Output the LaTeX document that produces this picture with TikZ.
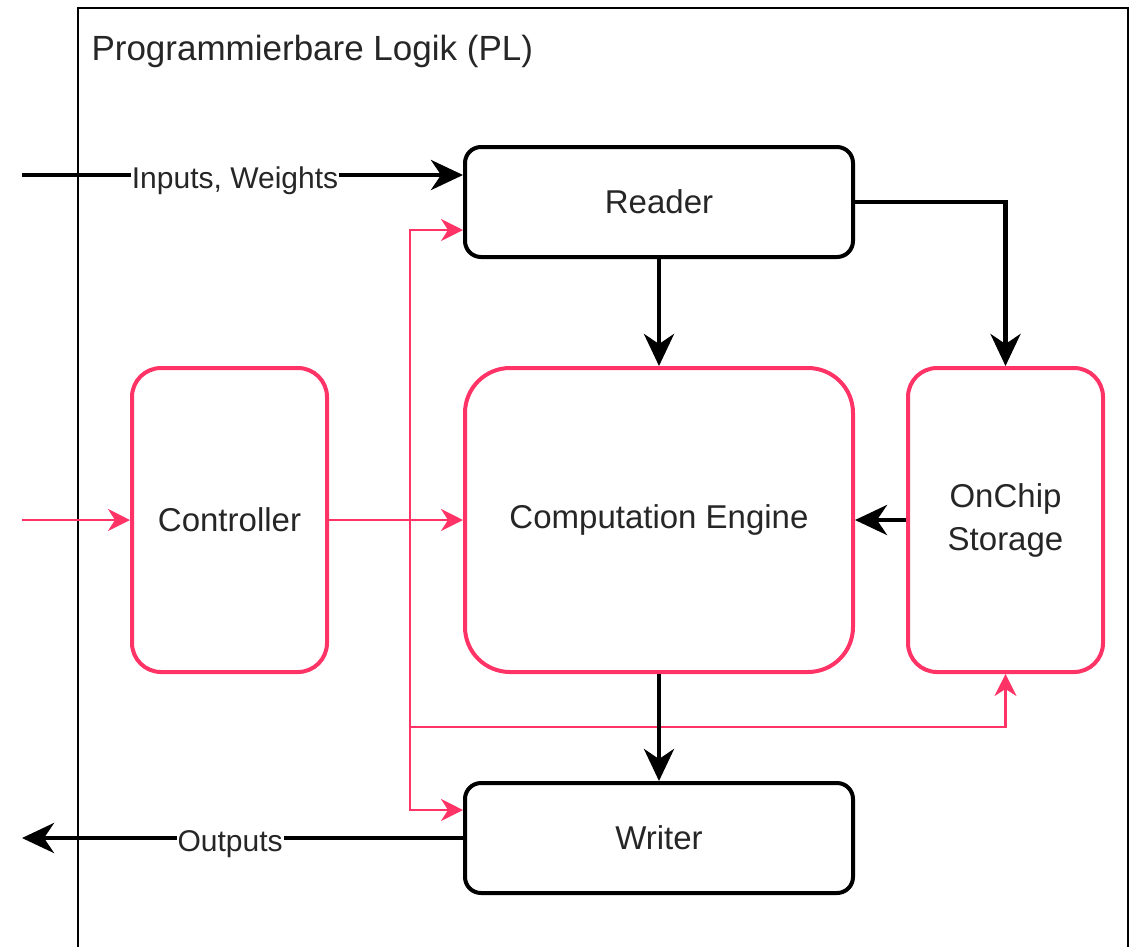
\documentclass[tikz,border=0pt]{standalone}
\usepackage{fontspec}
\setmainfont{Liberation Sans}
\usetikzlibrary{arrows.meta,calc}
\definecolor{ctrlpink}{HTML}{FF3366}
\definecolor{txt}{HTML}{262626}

\begin{document}
\begin{tikzpicture}[x=1pt,y=-1pt,
  boxtext/.style={text=txt,font=\fontsize{33}{43}\selectfont,align=center,inner sep=0pt},
  datablock/.style={boxtext,draw=black,line width=4pt,rounded corners=16pt,
    minimum width=388pt,minimum height=110pt},
  ctrlblock/.style={boxtext,draw=ctrlpink,line width=4pt,minimum height=304pt},
  dataflow/.style={draw=black,line width=4.5pt,
    -{Stealth[length=32pt,width=30pt,inset=10pt]}},
  ctrlflow/.style={draw=ctrlpink,line width=2.5pt,
    -{Stealth[length=22pt,width=22pt,inset=7pt]}},
  edgelabel/.style={fill=white,inner sep=1pt,text=txt,yshift=-6pt,
    font=\fontsize{30}{36}\selectfont}
]
\useasboundingbox (0,0) rectangle (1140,946);

% frame of the programmable logic region (continues below the page)
\begin{scope}
  \clip (0,0) rectangle (1140,946);
  \draw[line width=2.5pt] (78,980) -- (78,8) -- (1128,8) -- (1128,980);
\end{scope}
\node[anchor=base west,text=txt,font=\fontsize{35}{42}\selectfont] (title) at (88,60)
  {Programmierbare Logik (PL)};

% blocks
\node[datablock] (reader) at (659,202) {Reader};
\node[datablock] (writer) at (659,838) {Writer};
\node[ctrlblock,rounded corners=45pt,minimum width=388pt] (engine) at (659,520) {Computation Engine};
\node[ctrlblock,rounded corners=29pt,minimum width=195pt] (ctrl) at (229.5,520) {Controller};
\node[ctrlblock,rounded corners=29pt,minimum width=195pt] (store) at (1005.5,520) {OnChip\\Storage};

% free ends and the control bus
\coordinate (datain) at (22,175);
\coordinate (dataout) at (22,838);
\coordinate (ctrlin) at (22,520);
\coordinate (bus) at (410,520);
\coordinate (busS) at (410,727);

% control signals
\draw[ctrlflow] (ctrlin) -- (ctrl.west);
\draw[ctrlflow] (ctrl.east) -- (engine.west);
\draw[ctrlflow] (bus) |- ([yshift=-28pt]reader.west);
\draw[ctrlflow] (bus) |- ([yshift=28pt]writer.west);
\draw[ctrlflow] (bus) -- (busS) -| (store.south);

% data path
\draw[dataflow] (datain) -- (datain -| reader.west)
  node[edgelabel,pos=0.483] {Inputs, Weights};
\draw[dataflow] (reader.south) -- (engine.north);
\draw[dataflow] (reader.east) -| (store.north);
\draw[dataflow] (store.west) -- (engine.east);
\draw[dataflow] (engine.south) -- (writer.north);
\draw[dataflow] (writer.west) -- (dataout)
  node[edgelabel,pos=0.528] {Outputs};
\end{tikzpicture}
\end{document}
